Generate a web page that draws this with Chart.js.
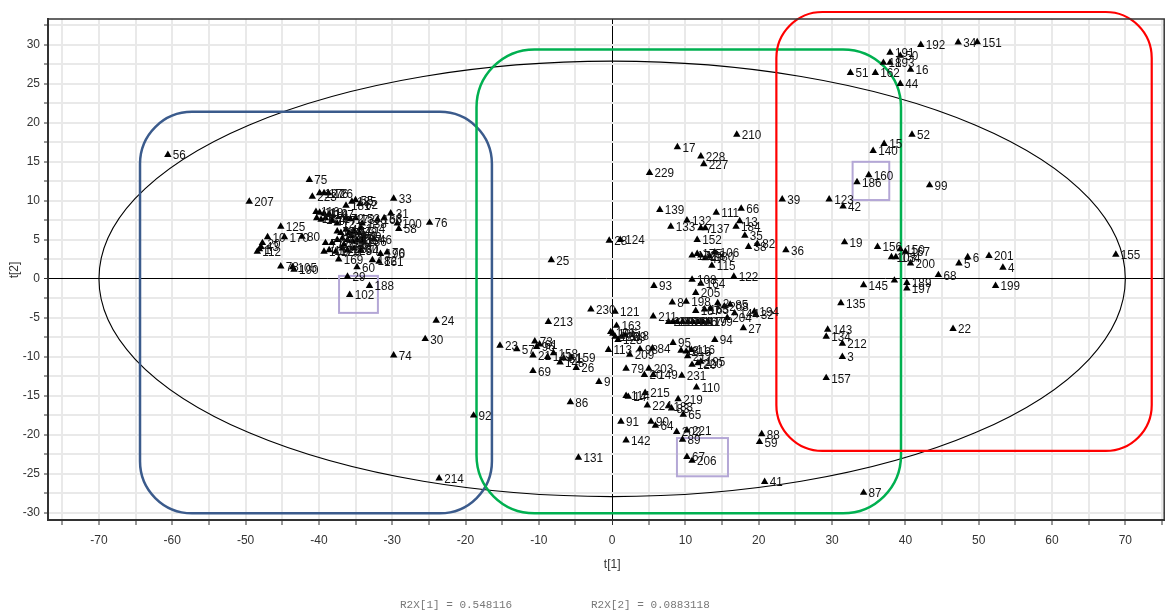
<!DOCTYPE html>
<html>
<head>
<meta charset="utf-8">
<script src="https://cdn.jsdelivr.net/npm/chart.js@4.4.1/dist/chart.umd.min.js"></script>
<style>
  html, body { margin: 0; padding: 0; background: #fff; }
  canvas { display: block; }
</style>
</head>
<body>
<canvas id="scores" width="1170" height="610"></canvas>
<script>
// left group (negative t[1])
const leftLabels = [
  '56','207','75','223','127','176','126','181','185','55',
  '62','33','31','76','116','118','119','147','11','174',
  '171','177','12','72','173','153','138','166','53','100',
  '58','125','10','170','80','20','43','1','112','78',
  '105','190','169','60','29','102','188','46','196','70',
  '182','161','136','14','37','40','45','47','48','49',
  '71','77','97','101','103','104','107','109','117','120',
  '128','129','130','54','146','150','154','24','30','74',
  '92','214'];
const leftT1 = [
  -60.6,-49.5,-41.3,-40.9,-39.9,-39.3,-38.7,-36.3,-35.5,-35.0,
  -34.4,-29.8,-30.2,-24.9,-40.4,-39.9,-39.3,-38.6,-40.3,-39.7,
  -39.1,-38.2,-37.5,-36.3,-35.7,-35.0,-34.1,-32.0,-31.1,-29.3,
  -29.1,-45.2,-47.0,-44.7,-42.3,-47.7,-47.9,-48.1,-48.4,-45.2,
  -43.6,-43.4,-37.3,-34.8,-36.1,-35.8,-33.1,-32.5,-31.6,-30.7,
  -32.7,-31.8,-34.1,-37.5,-37.0,-36.3,-35.9,-35.2,-34.5,-33.9,
  -39.1,-38.2,-37.5,-36.8,-36.1,-35.4,-34.8,-39.3,-38.6,-37.7,
  -36.8,-36.1,-35.2,-34.3,-36.6,-35.6,-34.3,-24.0,-25.5,-29.8,
  -18.9,-23.6];
const leftT2 = [
  15.9,9.9,12.7,10.55,11.0,11.0,11.0,9.4,9.9,10.1,
  9.6,10.3,8.4,7.2,8.6,8.5,8.4,8.3,7.8,7.6,
  7.8,7.5,7.1,7.8,7.65,7.8,7.1,7.6,7.8,7.1,
  6.4,6.7,5.35,5.35,5.4,4.6,4.1,3.8,3.5,1.6,
  1.5,1.2,2.5,1.5,0.3,-2.05,-0.9,5.1,3.2,3.4,
  2.4,2.2,4.8,6.1,5.9,6.3,5.9,6.1,5.9,5.4,
  4.6,4.6,5.0,5.2,5.0,4.8,5.0,3.5,3.7,3.5,
  3.9,3.7,3.9,3.7,4.4,5.5,6.5,-5.35,-7.7,-9.8,
  -17.5,-25.55];

// middle group
const midLabels = [
  '25','28','124','229','17','228','227','210','139','111',
  '66','132','13','133','7','137','184','35','152','38',
  '82','36','106','172','175','178','47','180','115','122',
  '39','93','108','164','205','8','198','230','121','213',
  '187','165','63','2','208','85','194','32','204','144',
  '27','211','222','225','218','226','168','146','117','119',
  '179','94','163','101','196','126','128','129','118','113',
  '209','98','84','95','18','216','116','217','220','195',
  '120','231','110','79','203','20','149','9','26','159',
  '158','148','81','141','21','69','23','57','73','61',
  '96','86','131','215','114','14','219','224','183','83',
  '65','91','90','64','142','202','221','89','67','206',
  '88','59','41','87'];
const midT1 = [
  -8.3,-0.4,1.1,5.1,8.9,12.1,12.5,17.0,6.5,14.2,
  17.6,10.2,17.4,8.0,12.1,12.7,16.9,18.1,11.6,18.6,
  19.8,23.7,14.0,10.9,11.6,12.1,12.7,13.3,13.6,16.6,
  23.2,5.7,10.9,12.1,11.4,8.2,10.1,-2.9,0.4,-8.7,
  11.4,12.6,13.4,14.4,15.3,16.1,19.4,19.6,15.7,16.7,
  17.9,5.6,7.7,8.3,8.9,9.6,10.3,11.0,11.7,12.4,
  13.1,14.0,0.6,-0.2,0.1,0.4,0.8,1.3,1.8,-0.5,
  2.4,3.8,5.5,8.3,9.4,10.1,10.8,10.3,11.7,12.1,
  10.9,9.5,11.5,1.9,5.0,4.4,5.6,-1.8,-4.9,-5.6,
  -8.0,-7.1,-6.6,-8.8,-10.8,-10.8,-15.3,-13.0,-10.55,-9.9,
  -10.3,-5.7,-4.6,4.5,1.9,2.2,9.0,4.8,7.7,8.1,
  9.7,1.2,5.3,5.9,1.9,8.8,10.2,9.6,10.2,10.9,
  20.4,20.1,20.8,34.3];
const midT2 = [
  2.4,4.9,5.0,13.6,16.9,15.7,14.7,18.5,8.85,8.5,
  9.0,7.5,7.4,6.7,6.5,6.5,6.7,5.55,5.0,4.1,
  4.5,3.7,3.4,3.0,3.2,3.0,2.65,2.9,1.7,0.3,
  10.2,-0.9,-0.1,-0.6,-1.8,-3.0,-2.9,-3.9,-4.2,-5.5,
  -4.1,-3.9,-3.8,-3.1,-3.5,-3.3,-4.2,-4.6,-5.0,-4.4,
  -6.3,-4.8,-5.5,-5.5,-5.5,-5.5,-5.5,-5.5,-5.5,-5.5,
  -5.5,-7.8,-6.0,-6.8,-7.0,-7.4,-7.8,-7.4,-7.2,-9.1,
  -9.7,-9.0,-8.9,-8.2,-9.2,-9.3,-9.1,-9.9,-10.8,-10.6,
  -11.0,-12.4,-13.9,-11.5,-11.5,-12.3,-12.3,-13.2,-11.4,-10.1,
  -9.5,-10.7,-10.2,-10.0,-9.8,-11.8,-8.55,-9.0,-8.0,-8.4,
  -8.7,-15.8,-22.9,-14.6,-15.0,-15.1,-15.4,-16.2,-16.3,-16.6,
  -17.4,-18.3,-18.3,-18.8,-20.7,-19.6,-19.4,-20.6,-22.8,-23.3,
  -19.9,-20.9,-26.0,-27.4];

// right group
const rightLabels = [
  '192','34','151','191','50','18','193','16','51','162',
  '44','52','15','140','160','186','99','123','42','19',
  '156','150','167','103','154','200','5','6','201','4',
  '155','68','145','','189','197','199','135','143','134',
  '212','3','22','157'];
const rightT1 = [
  42.1,47.2,49.8,37.9,39.3,37.0,37.9,40.7,32.5,35.9,
  39.3,40.9,37.1,35.6,35.0,33.4,43.3,29.6,31.5,31.7,
  36.2,39.3,40.0,38.1,38.7,40.7,47.3,48.5,51.4,53.3,
  68.7,44.5,34.3,38.5,40.2,40.2,52.3,31.2,29.4,29.2,
  31.4,31.4,46.5,29.2];
const rightT2 = [
  30.0,30.3,30.35,29.0,28.6,27.7,27.7,26.8,26.4,26.4,
  25.0,18.5,17.3,16.4,13.3,12.4,12.0,10.2,9.3,4.7,
  4.1,3.8,3.5,2.8,2.8,2.0,2.0,2.8,2.95,1.45,
  3.1,0.5,-0.8,-0.2,-0.5,-1.2,-0.9,-3.1,-6.5,-7.4,
  -8.3,-10.0,-6.4,-12.7];

const xTicks = [-75,-70,-65,-60,-55,-50,-45,-40,-35,-30,-25,-20,-15,-10,-5,0,5,10,15,20,25,30,35,40,45,50,55,60,65,70,75];
const yTicks = [-30,-27.5,-25,-22.5,-20,-17.5,-15,-12.5,-10,-7.5,-5,-2.5,0,2.5,5,7.5,10,12.5,15,17.5,20,22.5,25,27.5,30,32.5];

const r2x1 = 0.548116;
const r2x2 = 0.0883118;

// Hotelling ellipse half-axes (t[1], t[2])
const ellipseA = 70;
const ellipseB = 27.9;

const groupBoxes = [
  { x0: -64.4, x1: -16.4, y0: -30.05, y1: 21.4, r: 52, color: '#3b5b8c', w: 2.5 },
  { x0: -18.5, x1: 39.4, y0: -30.05, y1: 29.4, r: 58, color: '#00b050', w: 2.5 },
  { x0: 22.4, x1: 73.6, y0: -22.05, y1: 34.2, r: 46, color: '#ff0000', w: 2.2 }
];
const markBoxes = [
  { x0: -37.25, x1: -31.95, y0: -4.36, y1: 0.38 },
  { x0: 32.8, x1: 37.8, y0: 10.1, y1: 15.0 },
  { x0: 8.84, x1: 15.8, y0: -25.3, y1: -20.4 }
];

const labels = leftLabels.concat(midLabels, rightLabels);
const t1 = leftT1.concat(midT1, rightT1);
const t2 = leftT2.concat(midT2, rightT2);

const sans = '"Liberation Sans", Arial, sans-serif';

function roundedBox(ctx, x0, y0, x1, y1, r) {
  ctx.beginPath();
  ctx.moveTo(x0 + r, y0);
  ctx.lineTo(x1 - r, y0);
  ctx.arcTo(x1, y0, x1, y0 + r, r);
  ctx.lineTo(x1, y1 - r);
  ctx.arcTo(x1, y1, x1 - r, y1, r);
  ctx.lineTo(x0 + r, y1);
  ctx.arcTo(x0, y1, x0, y1 - r, r);
  ctx.lineTo(x0, y0 + r);
  ctx.arcTo(x0, y0, x0 + r, y0, r);
  ctx.closePath();
}

const overlay = {
  id: 'overlay',
  beforeDatasetsDraw(chart) {
    const { ctx, scales: { x, y } } = chart;
    ctx.save();
    // T2 ellipse
    const cx = x.getPixelForValue(0), cy = y.getPixelForValue(0);
    ctx.beginPath();
    ctx.ellipse(cx, cy, x.getPixelForValue(ellipseA) - cx, cy - y.getPixelForValue(ellipseB), 0, 0, Math.PI * 2);
    ctx.strokeStyle = '#000';
    ctx.lineWidth = 1.1;
    ctx.stroke();

    groupBoxes.forEach(b => {
      roundedBox(ctx, x.getPixelForValue(b.x0), y.getPixelForValue(b.y1),
        x.getPixelForValue(b.x1), y.getPixelForValue(b.y0), b.r);
      ctx.strokeStyle = b.color;
      ctx.lineWidth = b.w;
      ctx.stroke();
    });

    markBoxes.forEach(b => {
      const px0 = x.getPixelForValue(b.x0), px1 = x.getPixelForValue(b.x1);
      const py0 = y.getPixelForValue(b.y1), py1 = y.getPixelForValue(b.y0);
      ctx.strokeStyle = '#b4a7d6';
      ctx.lineWidth = 2;
      ctx.strokeRect(px0, py0, px1 - px0, py1 - py0);
    });
    ctx.restore();
  },
  afterDatasetsDraw(chart) {
    const { ctx } = chart;
    const meta = chart.getDatasetMeta(0);
    ctx.save();
    ctx.fillStyle = '#111';
    ctx.font = '13px ' + sans;
    ctx.textBaseline = 'middle';
    meta.data.forEach((pt, i) => {
      if (!labels[i]) return;
      ctx.save();
      ctx.translate(pt.x + 5, pt.y + 1);
      ctx.scale(0.9, 1);
      ctx.fillText(labels[i], 0, 0);
      ctx.restore();
    });
    ctx.restore();
  },
  afterDraw(chart) {
    const { ctx, chartArea: a, scales: { x } } = chart;
    ctx.save();
    ctx.strokeStyle = '#333';
    ctx.lineWidth = 1.5;
    ctx.strokeRect(a.left, a.top, a.right - a.left, a.bottom - a.top);

    ctx.fillStyle = '#333';
    ctx.font = '12px ' + sans;
    ctx.textAlign = 'center';
    ctx.textBaseline = 'middle';
    ctx.fillText('t[1]', x.getPixelForValue(0), 565);
    ctx.save();
    ctx.translate(15, 270);
    ctx.rotate(-Math.PI / 2);
    ctx.fillText('t[2]', 0, 0);
    ctx.restore();

    ctx.fillStyle = '#777';
    ctx.font = '11px "Liberation Mono", "DejaVu Sans Mono", monospace';
    ctx.textAlign = 'left';
    ctx.textBaseline = 'alphabetic';
    ctx.fillText('R2X[1] = ' + r2x1, 400, 608);
    ctx.fillText('R2X[2] = ' + r2x2, 591, 608);
    ctx.restore();
  }
};

const gridColor = c => (c.tick && c.tick.value === 0 ? '#000' : '#e9e9e9');
const gridWidth = c => (c.tick && c.tick.value === 0 ? 1 : 2);

new Chart(document.getElementById('scores'), {
  type: 'scatter',
  data: {
    datasets: [{
      data: t1.map((v, i) => ({ x: v, y: t2[i] })),
      pointStyle: 'triangle',
      pointRadius: 4.3,
      backgroundColor: '#000',
      borderColor: '#000',
      borderWidth: 0
    }]
  },
  options: {
    responsive: false,
    animation: false,
    devicePixelRatio: 1,
    layout: { padding: { top: 19, right: 2, left: 0, bottom: 0 } },
    plugins: { legend: { display: false }, tooltip: { enabled: false } },
    scales: {
      x: {
        type: 'linear',
        bounds: 'data',
        min: -76.95,
        max: 75.3,
        afterFit(s) { s.height = 90; },
        afterBuildTicks(s) { s.ticks = xTicks.map(v => ({ value: v })); },
        grid: { color: gridColor, lineWidth: gridWidth, tickColor: '#333', tickLength: 5, tickWidth: 1 },
        border: { color: '#333', width: 2 },
        ticks: {
          autoSkip: false, maxRotation: 0, padding: 8, color: '#333',
          font: { family: sans, size: 12 },
          callback: v => (v % 10 === 0 ? String(v) : '')
        }
      },
      y: {
        type: 'linear',
        bounds: 'data',
        min: -30.9,
        max: 33.3,
        afterFit(s) { s.width = 48; },
        afterBuildTicks(s) { s.ticks = yTicks.map(v => ({ value: v })); },
        grid: { color: gridColor, lineWidth: gridWidth, tickColor: '#333', tickLength: 4, tickWidth: 1 },
        border: { color: '#333', width: 2 },
        ticks: {
          autoSkip: false, padding: 4, color: '#333',
          font: { family: sans, size: 12 },
          callback: v => (v % 5 === 0 ? String(v) : '')
        }
      }
    }
  },
  plugins: [overlay]
});
</script>
</body>
</html>
